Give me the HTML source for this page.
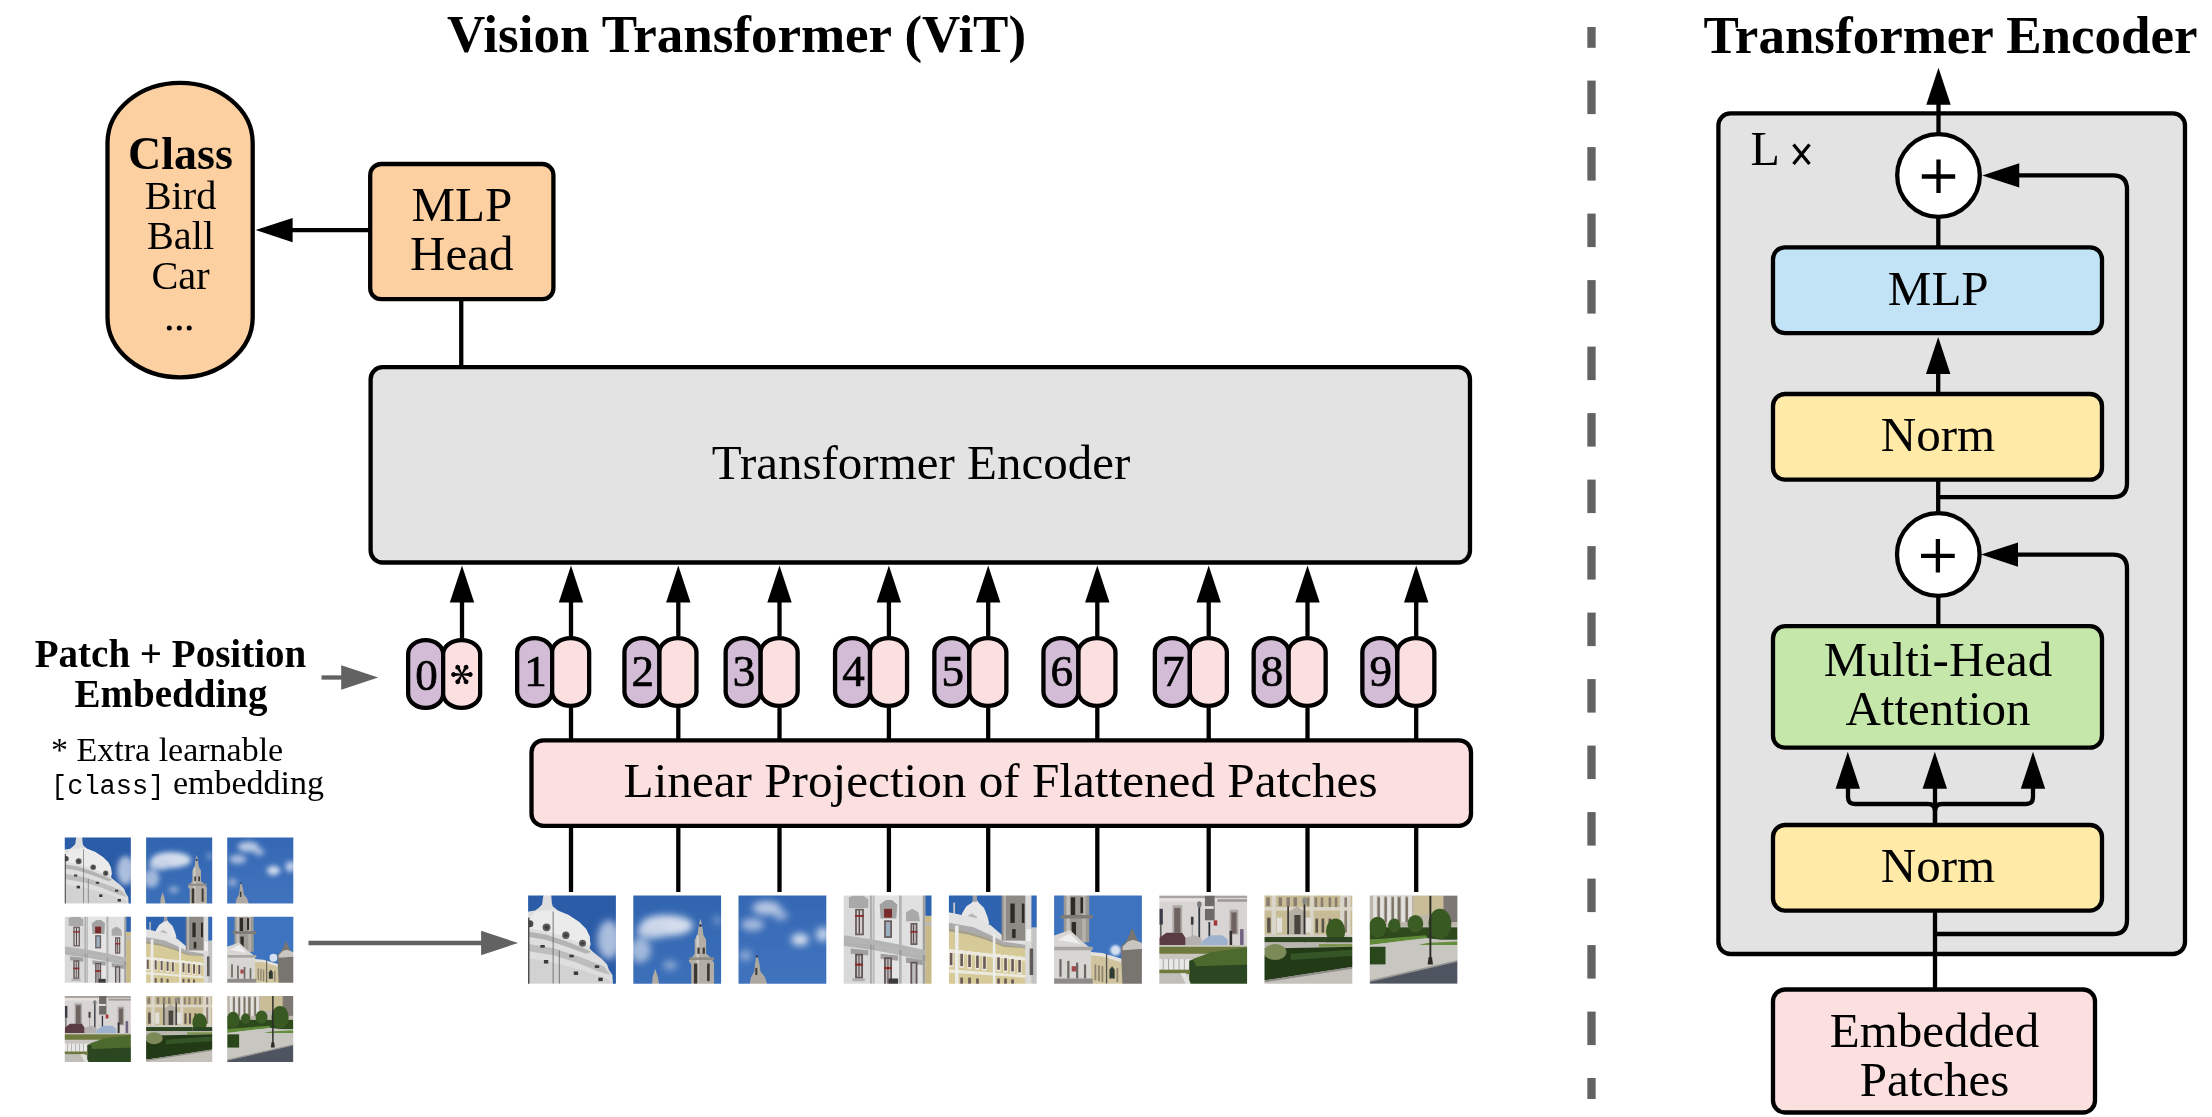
<!DOCTYPE html>
<html><head><meta charset="utf-8"><style>
html,body{margin:0;padding:0;background:#fff;overflow:hidden;}
svg{display:block;will-change:transform;}
text{fill:#000;}
</style></head><body>
<svg width="2212" height="1117" viewBox="0 0 2212 1117">
<text x="736.60" y="51.90" font-family="Liberation Serif" font-size="53" font-weight="bold" text-anchor="middle" >Vision Transformer (ViT)</text>
<text x="1950.50" y="52.60" font-family="Liberation Serif" font-size="53" font-weight="bold" text-anchor="middle" >Transformer Encoder</text>
<rect x="1587.35" y="27" width="8.3" height="20.8" fill="#626262"/>
<rect x="1587.35" y="80.60" width="8.3" height="33.5" fill="#626262"/>
<rect x="1587.35" y="147.10" width="8.3" height="33.5" fill="#626262"/>
<rect x="1587.35" y="213.60" width="8.3" height="33.5" fill="#626262"/>
<rect x="1587.35" y="280.10" width="8.3" height="33.5" fill="#626262"/>
<rect x="1587.35" y="346.60" width="8.3" height="33.5" fill="#626262"/>
<rect x="1587.35" y="413.10" width="8.3" height="33.5" fill="#626262"/>
<rect x="1587.35" y="479.60" width="8.3" height="33.5" fill="#626262"/>
<rect x="1587.35" y="546.10" width="8.3" height="33.5" fill="#626262"/>
<rect x="1587.35" y="612.60" width="8.3" height="33.5" fill="#626262"/>
<rect x="1587.35" y="679.10" width="8.3" height="33.5" fill="#626262"/>
<rect x="1587.35" y="745.60" width="8.3" height="33.5" fill="#626262"/>
<rect x="1587.35" y="812.10" width="8.3" height="33.5" fill="#626262"/>
<rect x="1587.35" y="878.60" width="8.3" height="33.5" fill="#626262"/>
<rect x="1587.35" y="945.10" width="8.3" height="33.5" fill="#626262"/>
<rect x="1587.35" y="1011.60" width="8.3" height="33.5" fill="#626262"/>
<rect x="1587.35" y="1078" width="8.3" height="21" fill="#626262"/>
<rect x="107.5" y="82.8" width="145.2" height="294.5" rx="72.6" ry="60" fill="#FDD0A2" stroke="#000" stroke-width="4.3"/>
<text x="180.50" y="168.50" font-family="Liberation Serif" font-size="46" font-weight="bold" text-anchor="middle" >Class</text>
<text x="180.50" y="208.70" font-family="Liberation Serif" font-size="40.3" font-weight="normal" text-anchor="middle" >Bird</text>
<text x="180.50" y="249.00" font-family="Liberation Serif" font-size="40.3" font-weight="normal" text-anchor="middle" >Ball</text>
<text x="180.50" y="289.20" font-family="Liberation Serif" font-size="40.3" font-weight="normal" text-anchor="middle" >Car</text>
<circle cx="169.3" cy="327.9" r="2.5"/><circle cx="179.3" cy="327.9" r="2.5"/><circle cx="189.2" cy="327.9" r="2.5"/>
<rect x="370.20" y="164.00" width="183.20" height="135.20" rx="11" ry="11" fill="#FDD0A2" stroke="#000" stroke-width="4.3"/>
<text x="461.80" y="221.30" font-family="Liberation Serif" font-size="49" font-weight="normal" text-anchor="middle" >MLP</text>
<text x="461.80" y="270.00" font-family="Liberation Serif" font-size="49" font-weight="normal" text-anchor="middle" >Head</text>
<line x1="370.20" y1="230.10" x2="290.00" y2="230.10" stroke="#000" stroke-width="4.3"/>
<polygon points="255.60,230.10 292.60,217.90 292.60,242.30" fill="#000"/>
<line x1="461.25" y1="299.20" x2="461.25" y2="367.20" stroke="#000" stroke-width="4.3"/>
<rect x="370.60" y="367.20" width="1099.40" height="195.30" rx="12" ry="12" fill="#E3E3E3" stroke="#000" stroke-width="4.3"/>
<text x="921.00" y="478.70" font-family="Liberation Serif" font-size="49" font-weight="normal" text-anchor="middle" >Transformer Encoder</text>
<line x1="462.00" y1="638.00" x2="462.00" y2="600.00" stroke="#000" stroke-width="4.3"/>
<polygon points="462.00,565.60 449.80,602.60 474.20,602.60" fill="#000"/>
<rect x="408.15" y="640.15" width="35" height="67.70" rx="17.5" ry="14" fill="#D3BCD6" stroke="#000" stroke-width="4.3"/>
<rect x="443.15" y="640.15" width="37" height="67.70" rx="18.5" ry="14" fill="#FCE0E0" stroke="#000" stroke-width="4.3"/>
<text x="426.50" y="690.00" font-family="Liberation Serif" font-size="45" font-weight="normal" text-anchor="middle" stroke="#000" stroke-width="0.7">0</text>
<g transform="translate(461.9 674.5)" fill="#000"><path d="M0 -0.7 L6.6 -1.5 A2.35 2.35 0 1 1 6.6 1.5 L0 0.7 Z" transform="rotate(0)"/><path d="M0 -0.7 L6.6 -1.5 A2.35 2.35 0 1 1 6.6 1.5 L0 0.7 Z" transform="rotate(60)"/><path d="M0 -0.7 L6.6 -1.5 A2.35 2.35 0 1 1 6.6 1.5 L0 0.7 Z" transform="rotate(120)"/><path d="M0 -0.7 L6.6 -1.5 A2.35 2.35 0 1 1 6.6 1.5 L0 0.7 Z" transform="rotate(180)"/><path d="M0 -0.7 L6.6 -1.5 A2.35 2.35 0 1 1 6.6 1.5 L0 0.7 Z" transform="rotate(240)"/><path d="M0 -0.7 L6.6 -1.5 A2.35 2.35 0 1 1 6.6 1.5 L0 0.7 Z" transform="rotate(300)"/></g>
<line x1="571.00" y1="636.00" x2="571.00" y2="600.00" stroke="#000" stroke-width="4.3"/>
<polygon points="571.00,565.60 558.80,602.60 583.20,602.60" fill="#000"/>
<line x1="571.00" y1="708.00" x2="571.00" y2="740.30" stroke="#000" stroke-width="4.3"/>
<line x1="571.00" y1="825.80" x2="571.00" y2="892.00" stroke="#000" stroke-width="4.3"/>
<rect x="517.15" y="638.15" width="35" height="67.70" rx="17.5" ry="14" fill="#D3BCD6" stroke="#000" stroke-width="4.3"/>
<rect x="552.15" y="638.15" width="37" height="67.70" rx="18.5" ry="14" fill="#FCE0E0" stroke="#000" stroke-width="4.3"/>
<text x="535.50" y="685.50" font-family="Liberation Serif" font-size="45" font-weight="normal" text-anchor="middle" stroke="#000" stroke-width="0.7">1</text>
<line x1="678.30" y1="636.00" x2="678.30" y2="600.00" stroke="#000" stroke-width="4.3"/>
<polygon points="678.30,565.60 666.10,602.60 690.50,602.60" fill="#000"/>
<line x1="678.30" y1="708.00" x2="678.30" y2="740.30" stroke="#000" stroke-width="4.3"/>
<line x1="678.30" y1="825.80" x2="678.30" y2="892.00" stroke="#000" stroke-width="4.3"/>
<rect x="624.45" y="638.15" width="35" height="67.70" rx="17.5" ry="14" fill="#D3BCD6" stroke="#000" stroke-width="4.3"/>
<rect x="659.45" y="638.15" width="37" height="67.70" rx="18.5" ry="14" fill="#FCE0E0" stroke="#000" stroke-width="4.3"/>
<text x="642.80" y="685.50" font-family="Liberation Serif" font-size="45" font-weight="normal" text-anchor="middle" stroke="#000" stroke-width="0.7">2</text>
<line x1="779.50" y1="636.00" x2="779.50" y2="600.00" stroke="#000" stroke-width="4.3"/>
<polygon points="779.50,565.60 767.30,602.60 791.70,602.60" fill="#000"/>
<line x1="779.50" y1="708.00" x2="779.50" y2="740.30" stroke="#000" stroke-width="4.3"/>
<line x1="779.50" y1="825.80" x2="779.50" y2="892.00" stroke="#000" stroke-width="4.3"/>
<rect x="725.65" y="638.15" width="35" height="67.70" rx="17.5" ry="14" fill="#D3BCD6" stroke="#000" stroke-width="4.3"/>
<rect x="760.65" y="638.15" width="37" height="67.70" rx="18.5" ry="14" fill="#FCE0E0" stroke="#000" stroke-width="4.3"/>
<text x="744.00" y="685.50" font-family="Liberation Serif" font-size="45" font-weight="normal" text-anchor="middle" stroke="#000" stroke-width="0.7">3</text>
<line x1="888.90" y1="636.00" x2="888.90" y2="600.00" stroke="#000" stroke-width="4.3"/>
<polygon points="888.90,565.60 876.70,602.60 901.10,602.60" fill="#000"/>
<line x1="888.90" y1="708.00" x2="888.90" y2="740.30" stroke="#000" stroke-width="4.3"/>
<line x1="888.90" y1="825.80" x2="888.90" y2="892.00" stroke="#000" stroke-width="4.3"/>
<rect x="835.05" y="638.15" width="35" height="67.70" rx="17.5" ry="14" fill="#D3BCD6" stroke="#000" stroke-width="4.3"/>
<rect x="870.05" y="638.15" width="37" height="67.70" rx="18.5" ry="14" fill="#FCE0E0" stroke="#000" stroke-width="4.3"/>
<text x="853.40" y="685.50" font-family="Liberation Serif" font-size="45" font-weight="normal" text-anchor="middle" stroke="#000" stroke-width="0.7">4</text>
<line x1="988.20" y1="636.00" x2="988.20" y2="600.00" stroke="#000" stroke-width="4.3"/>
<polygon points="988.20,565.60 976.00,602.60 1000.40,602.60" fill="#000"/>
<line x1="988.20" y1="708.00" x2="988.20" y2="740.30" stroke="#000" stroke-width="4.3"/>
<line x1="988.20" y1="825.80" x2="988.20" y2="892.00" stroke="#000" stroke-width="4.3"/>
<rect x="934.35" y="638.15" width="35" height="67.70" rx="17.5" ry="14" fill="#D3BCD6" stroke="#000" stroke-width="4.3"/>
<rect x="969.35" y="638.15" width="37" height="67.70" rx="18.5" ry="14" fill="#FCE0E0" stroke="#000" stroke-width="4.3"/>
<text x="952.70" y="685.50" font-family="Liberation Serif" font-size="45" font-weight="normal" text-anchor="middle" stroke="#000" stroke-width="0.7">5</text>
<line x1="1097.30" y1="636.00" x2="1097.30" y2="600.00" stroke="#000" stroke-width="4.3"/>
<polygon points="1097.30,565.60 1085.10,602.60 1109.50,602.60" fill="#000"/>
<line x1="1097.30" y1="708.00" x2="1097.30" y2="740.30" stroke="#000" stroke-width="4.3"/>
<line x1="1097.30" y1="825.80" x2="1097.30" y2="892.00" stroke="#000" stroke-width="4.3"/>
<rect x="1043.45" y="638.15" width="35" height="67.70" rx="17.5" ry="14" fill="#D3BCD6" stroke="#000" stroke-width="4.3"/>
<rect x="1078.45" y="638.15" width="37" height="67.70" rx="18.5" ry="14" fill="#FCE0E0" stroke="#000" stroke-width="4.3"/>
<text x="1061.80" y="685.50" font-family="Liberation Serif" font-size="45" font-weight="normal" text-anchor="middle" stroke="#000" stroke-width="0.7">6</text>
<line x1="1208.70" y1="636.00" x2="1208.70" y2="600.00" stroke="#000" stroke-width="4.3"/>
<polygon points="1208.70,565.60 1196.50,602.60 1220.90,602.60" fill="#000"/>
<line x1="1208.70" y1="708.00" x2="1208.70" y2="740.30" stroke="#000" stroke-width="4.3"/>
<line x1="1208.70" y1="825.80" x2="1208.70" y2="892.00" stroke="#000" stroke-width="4.3"/>
<rect x="1154.85" y="638.15" width="35" height="67.70" rx="17.5" ry="14" fill="#D3BCD6" stroke="#000" stroke-width="4.3"/>
<rect x="1189.85" y="638.15" width="37" height="67.70" rx="18.5" ry="14" fill="#FCE0E0" stroke="#000" stroke-width="4.3"/>
<text x="1173.20" y="685.50" font-family="Liberation Serif" font-size="45" font-weight="normal" text-anchor="middle" stroke="#000" stroke-width="0.7">7</text>
<line x1="1307.50" y1="636.00" x2="1307.50" y2="600.00" stroke="#000" stroke-width="4.3"/>
<polygon points="1307.50,565.60 1295.30,602.60 1319.70,602.60" fill="#000"/>
<line x1="1307.50" y1="708.00" x2="1307.50" y2="740.30" stroke="#000" stroke-width="4.3"/>
<line x1="1307.50" y1="825.80" x2="1307.50" y2="892.00" stroke="#000" stroke-width="4.3"/>
<rect x="1253.65" y="638.15" width="35" height="67.70" rx="17.5" ry="14" fill="#D3BCD6" stroke="#000" stroke-width="4.3"/>
<rect x="1288.65" y="638.15" width="37" height="67.70" rx="18.5" ry="14" fill="#FCE0E0" stroke="#000" stroke-width="4.3"/>
<text x="1272.00" y="685.50" font-family="Liberation Serif" font-size="45" font-weight="normal" text-anchor="middle" stroke="#000" stroke-width="0.7">8</text>
<line x1="1416.20" y1="636.00" x2="1416.20" y2="600.00" stroke="#000" stroke-width="4.3"/>
<polygon points="1416.20,565.60 1404.00,602.60 1428.40,602.60" fill="#000"/>
<line x1="1416.20" y1="708.00" x2="1416.20" y2="740.30" stroke="#000" stroke-width="4.3"/>
<line x1="1416.20" y1="825.80" x2="1416.20" y2="892.00" stroke="#000" stroke-width="4.3"/>
<rect x="1362.35" y="638.15" width="35" height="67.70" rx="17.5" ry="14" fill="#D3BCD6" stroke="#000" stroke-width="4.3"/>
<rect x="1397.35" y="638.15" width="37" height="67.70" rx="18.5" ry="14" fill="#FCE0E0" stroke="#000" stroke-width="4.3"/>
<text x="1380.70" y="685.50" font-family="Liberation Serif" font-size="45" font-weight="normal" text-anchor="middle" stroke="#000" stroke-width="0.7">9</text>
<rect x="531.50" y="740.30" width="939.50" height="85.50" rx="12" ry="12" fill="#FCE0E0" stroke="#000" stroke-width="4.3"/>
<text x="1000.60" y="796.90" font-family="Liberation Serif" font-size="49.2" font-weight="normal" text-anchor="middle" >Linear Projection of Flattened Patches</text>
<text x="170.50" y="667.20" font-family="Liberation Serif" font-size="39" font-weight="bold" text-anchor="middle" >Patch + Position</text>
<text x="171.00" y="706.75" font-family="Liberation Serif" font-size="39" font-weight="bold" text-anchor="middle" >Embedding</text>
<line x1="321.50" y1="677.50" x2="345.00" y2="677.50" stroke="#626262" stroke-width="4.3"/>
<polygon points="378.20,677.50 341.20,665.30 341.20,689.70" fill="#626262"/>
<text x="51.00" y="760.90" font-family="Liberation Serif" font-size="34" font-weight="normal" text-anchor="start" >* Extra learnable</text>
<text x="51" y="793.5" font-size="34" text-anchor="start"><tspan font-family="Liberation Mono" font-size="27">[class]</tspan><tspan font-family="Liberation Serif"> embedding</tspan></text>
<line x1="308.50" y1="943.00" x2="485.00" y2="943.00" stroke="#626262" stroke-width="4.3"/>
<polygon points="518.10,943.00 481.10,930.80 481.10,955.20" fill="#626262"/>
<defs>
<linearGradient id="skyg2" x1="0" y1="0" x2="0" y2="1"><stop offset="0" stop-color="#3064AF"/><stop offset="1" stop-color="#3C70BA"/></linearGradient><linearGradient id="skyg3" x1="0" y1="0" x2="0" y2="1"><stop offset="0" stop-color="#3467B3"/><stop offset="1" stop-color="#4174BE"/></linearGradient><filter id="soft" x="-5%" y="-5%" width="110%" height="110%"><feGaussianBlur stdDeviation="0.55"/></filter><filter id="bl1" x="-50%" y="-50%" width="200%" height="200%"><feGaussianBlur stdDeviation="4"/></filter><filter id="bl2" x="-20%" y="-20%" width="140%" height="140%"><feGaussianBlur stdDeviation="1.2"/></filter>
<symbol id="p1" viewBox="0 0 100 100" preserveAspectRatio="none"><g filter="url(#soft)">
<rect x="-5" y="-5" width="110" height="110" fill="#2C5CA8"/>
<ellipse cx="92" cy="50" rx="13" ry="22" fill="#B9C9E3" opacity="0.9" filter="url(#bl1)"/>
<path d="M-5 19 L8 17 L12 14 L16 10 L17 2 L19 -5 L26 -5 L27 8 L28 12 L34 17 L46 22 L58 30 L66 38 L70 46 L71 56 L70 60 L74 64 L84 72 L90 78 L92 84 L96 90 L97 105 L-5 105 Z" fill="#DEDEDE"/>
<path d="M8 18 L30 16 L46 22 L58 30 L66 38 L70 46 L71 56 L60 54 L40 46 L20 40 L-5 36 Z" fill="#EBEBEB"/>
<path d="M-5 40 L20 44 L44 52 L64 60 L72 64 L66 66 L44 58 L20 50 L-5 46 Z" fill="#A8A8A8" opacity="0.8"/>
<path d="M-5 54 L30 60 L60 70 L86 80 L94 90 L80 86 L56 76 L30 68 L-5 62 Z" fill="#B4B4B4" opacity="0.8"/>
<path d="M-5 70 L30 76 L60 84 L90 94 L96 100 L-5 100 Z" fill="#D2D2D2"/>
<circle cx="21" cy="36" r="4.5" fill="#5E5C5A"/>
<circle cx="21" cy="36" r="2.2" fill="#3E3C3A"/>
<circle cx="43" cy="45" r="4.2" fill="#5E5C5A"/>
<circle cx="43" cy="45" r="2" fill="#3E3C3A"/>
<circle cx="62" cy="54" r="4" fill="#5E5C5A"/>
<circle cx="62" cy="54" r="1.8" fill="#3E3C3A"/>
<circle cx="2" cy="32" r="4" fill="#4A4846"/>
<rect x="14" y="56" width="5" height="3" fill="#3A3A3A"/>
<rect x="18" y="73" width="5" height="4" fill="#3A3A3A"/>
<rect x="47" y="67" width="5" height="3" fill="#3A3A3A"/>
<rect x="52" y="86" width="5" height="4" fill="#3A3A3A"/>
<rect x="76" y="79" width="5" height="3" fill="#3A3A3A"/>
<rect x="80" y="93" width="5" height="4" fill="#3A3A3A"/>
<rect x="28" y="18" width="1" height="82" fill="#6A6A6A"/>
<rect x="35" y="62" width="1" height="38" fill="#6A6A6A"/>
<rect x="-5" y="25" width="6.5" height="80" fill="#3A3A3A"/>
</g></symbol>
<symbol id="p2" viewBox="0 0 100 100" preserveAspectRatio="none"><g filter="url(#soft)">
<rect x="-5" y="-5" width="110" height="110" fill="url(#skyg2)"/>
<g filter="url(#bl1)">
<ellipse cx="38" cy="34" rx="30" ry="12" fill="#DCE4F0" opacity="0.95"/>
<ellipse cx="22" cy="40" rx="18" ry="9" fill="#C8D4E8" opacity="0.9"/>
<ellipse cx="8" cy="62" rx="12" ry="14" fill="#B4C6E2" opacity="0.85"/>
<ellipse cx="42" cy="79" rx="8" ry="5" fill="#A8BCDC" opacity="0.8"/>
<ellipse cx="96" cy="28" rx="4" ry="5" fill="#9FB6DA" opacity="0.7"/>
</g>
<path d="M66 105 L66 78 L63 74 L67 70 L70 66 L70 50 L73 45 L75 32 L76.5 26 L78 32 L80 45 L83 50 L83 66 L88 70 L92 76 L92 105 Z" fill="#B2AEA6"/>
<rect x="72" y="45" width="2.5" height="55" fill="#D2D0CC"/>
<rect x="69" y="77" width="4" height="23" fill="#3C3732"/>
<rect x="84" y="77" width="3" height="20" fill="#3C3732"/>
<rect x="73" y="59" width="2.5" height="7" fill="#3C3732"/>
<rect x="79" y="59" width="2.5" height="7" fill="#3C3732"/>
<rect x="64" y="70" width="28" height="3" fill="#8E8A84"/>
<circle cx="76.5" cy="34" r="1.5" fill="#223355"/>
<path d="M21 105 L22 92 L24 86 L25 83 L26 86 L28 92 L30 105 Z" fill="#AFAAA2"/>
</g></symbol>
<symbol id="p3" viewBox="0 0 100 100" preserveAspectRatio="none"><g filter="url(#soft)">
<rect x="-5" y="-5" width="110" height="110" fill="url(#skyg3)"/>
<g filter="url(#bl1)">
<ellipse cx="32" cy="14" rx="16" ry="8" fill="#C4D2E8" opacity="0.9"/>
<ellipse cx="48" cy="22" rx="8" ry="6" fill="#B4C6E2" opacity="0.8"/>
<ellipse cx="16" cy="33" rx="13" ry="7" fill="#B8C8E4" opacity="0.85"/>
<ellipse cx="70" cy="50" rx="10" ry="7" fill="#DCE4F0" opacity="0.95"/>
<ellipse cx="96" cy="44" rx="8" ry="8" fill="#D0DCEE" opacity="0.9"/>
<ellipse cx="8" cy="68" rx="7" ry="6" fill="#A8BCDC" opacity="0.8"/>
</g>
<path d="M12 105 L14 93 L18 86 L19 76 L20 70 L21 67 L22 70 L24 78 L25 86 L30 92 L34 105 Z" fill="#ADA9A2"/>
<rect x="19.2" y="82" width="2.2" height="8" fill="#3C3732"/>
<circle cx="21" cy="69" r="1.3" fill="#223355"/>
</g></symbol>
<symbol id="p4" viewBox="0 0 100 100" preserveAspectRatio="none"><g filter="url(#soft)">
<rect x="-5" y="-5" width="110" height="110" fill="#DCDCDC"/>
<rect x="0" y="0" width="30" height="100" fill="#D9D9D9"/>
<rect x="35" y="0" width="28" height="100" fill="#E4E4E4"/>
<rect x="67" y="0" width="25" height="100" fill="#E0E0E0"/>
<rect x="30" y="-5" width="2" height="110" fill="#A8A8A8"/>
<rect x="33" y="-5" width="2" height="110" fill="#B8B8B8"/>
<rect x="63" y="-5" width="3" height="110" fill="#B2B2B2"/>
<rect x="90" y="-5" width="3" height="110" fill="#A0A0A0"/>
<rect x="93" y="-5" width="12" height="28" fill="#2F63B0"/>
<rect x="93" y="23" width="12" height="82" fill="#C9BA8A"/>
<rect x="93" y="30" width="12" height="4" fill="#B8B8B8"/>
<path d="M0 45 L35 50 L66 56 L93 62 L93 68 L66 62 L35 56 L0 51 Z" fill="#B4B4B4"/>
<path d="M0 51 L35 56 L66 62 L93 68 L93 74 L66 68 L35 62 L0 57 Z" fill="#8F8F8F" opacity="0.55"/>
<path d="M6 2 L12 0 L22 0 L28 4 L28 14 L6 14 Z" fill="#A9A9A9"/>
<path d="M41 10 L48 5 L55 5 L61 10 L60 26 L42 26 Z" fill="#A2A2A2"/>
<path d="M71 19 L78 15 L85 19 L87 29 L71 29 Z" fill="#A9A9A9"/>
<rect x="13" y="15" width="10" height="30" fill="#6A5E5C"/>
<rect x="15" y="17" width="6" height="26" fill="#CFCFCF"/>
<rect x="17" y="17" width="1.5" height="26" fill="#5A4444"/>
<rect x="13" y="22" width="10" height="2" fill="#8A2A2A"/>
<rect x="46" y="15" width="9" height="10" fill="#7A2A2A"/>
<rect x="46" y="28" width="9" height="20" fill="#6A5E5C"/>
<rect x="48" y="30" width="5" height="16" fill="#9CB0C2"/>
<rect x="76" y="31" width="8" height="25" fill="#6A5E5C"/>
<rect x="78" y="33" width="4" height="21" fill="#C8C8C8"/>
<rect x="79" y="33" width="1.2" height="21" fill="#5A4444"/>
<rect x="76" y="40" width="8" height="2" fill="#8A2A2A"/>
<path d="M8 60 L28 62 L28 68 L8 66 Z" fill="#A0A0A0"/>
<path d="M42 66 L62 68 L62 74 L42 72 Z" fill="#A0A0A0"/>
<path d="M71 70 L90 73 L90 79 L71 76 Z" fill="#A0A0A0"/>
<rect x="13" y="66" width="9" height="28" fill="#5E5252"/>
<rect x="15" y="68" width="5" height="24" fill="#C4C4C4"/>
<rect x="16.8" y="68" width="1.2" height="24" fill="#5A4444"/>
<rect x="13" y="77" width="9" height="2.5" fill="#8A2A2A"/>
<rect x="46" y="70" width="9" height="32" fill="#5E5252"/>
<rect x="48" y="72" width="5" height="30" fill="#C0C0C0"/>
<rect x="49.8" y="72" width="1.2" height="30" fill="#5A4444"/>
<rect x="46" y="81" width="9" height="2.5" fill="#8A2A2A"/>
<rect x="76" y="75" width="8" height="30" fill="#5E5252"/>
<rect x="78" y="77" width="4" height="28" fill="#BEBEBE"/>
<rect x="51" y="94" width="11" height="8" fill="#3A3A3A"/>
<rect x="10" y="94" width="14" height="3" fill="#B0B0B0"/>
</g></symbol>
<symbol id="p5" viewBox="0 0 100 100" preserveAspectRatio="none"><g filter="url(#soft)">
<rect x="-5" y="-5" width="110" height="110" fill="#D6CA98"/>
<path d="M-5 -5 L62 -5 L62 48 L50 40 L42 30 L30 26 L-5 20 Z" fill="#2E63B0"/>
<rect x="92" y="-5" width="13" height="42" fill="#3368B5"/>
<path d="M14 30 L15 20 L20 12 L26 8 L30 2 L34 8 L40 14 L44 24 L46 32 L30 34 Z" fill="#E6E6E6"/>
<path d="M20 24 L26 20 L32 24 L30 30 L22 30 Z" fill="#9A9A9A" opacity="0.6"/>
<rect x="27" y="-5" width="5" height="12" fill="#A0A0A0"/>
<rect x="5" y="8" width="2" height="14" fill="#C8C8C8"/>
<path d="M-5 18 L30 25 L48 34 L62 46 L88 52 L105 54 L105 62 L62 56 L44 48 L24 42 L-5 36 Z" fill="#E2E2E2"/>
<path d="M-5 30 L28 36 L46 44 L62 52 L88 56 L88 60 L62 58 L42 50 L22 44 L-5 40 Z" fill="#7E7E7E" opacity="0.55"/>
<rect x="60" y="-5" width="29" height="56" fill="#8E8B87"/>
<rect x="62" y="-5" width="3" height="56" fill="#B6B3AE"/>
<rect x="70" y="9" width="5" height="22" fill="#2E2B28"/>
<rect x="83" y="9" width="3" height="22" fill="#2E2B28"/>
<rect x="72" y="38" width="4" height="10" fill="#2E2B28"/>
<rect x="87" y="-5" width="7" height="105" fill="#DADADA"/>
<rect x="88" y="38" width="6" height="14" fill="#F0F0F0"/>
<rect x="94" y="36" width="11" height="69" fill="#C4C4C4"/>
<rect x="7" y="34" width="4" height="71" fill="#ECECEC"/>
<rect x="50" y="44" width="3" height="61" fill="#ECECEC"/>
<path d="M-5 60 L87 70 L87 74 L-5 64 Z" fill="#EEEEEA" opacity="0.85"/>
<path d="M-5 83 L87 90 L87 93 L-5 87 Z" fill="#EEEEEA" opacity="0.85"/>
<g fill="#EDEAE0">
<rect x="0" y="61" width="5" height="20"/><rect x="12" y="62" width="5" height="20"/><rect x="21" y="63" width="5" height="20"/>
<rect x="30" y="64" width="5" height="20"/><rect x="38" y="65" width="5" height="20"/><rect x="54" y="66" width="5" height="20"/>
<rect x="62" y="67" width="5" height="20"/><rect x="70" y="68" width="5" height="20"/><rect x="78" y="69" width="5" height="20"/>
</g>
<g fill="#6A5A56">
<rect x="1" y="65" width="3" height="14"/><rect x="13" y="66" width="3" height="14"/><rect x="22" y="67" width="3" height="14"/>
<rect x="31" y="68" width="3" height="14"/><rect x="39" y="69" width="3" height="14"/><rect x="55" y="70" width="3" height="14"/>
<rect x="63" y="71" width="3" height="14"/><rect x="71" y="72" width="3" height="14"/><rect x="79" y="73" width="3" height="14"/>
<rect x="13" y="93" width="3" height="8"/><rect x="22" y="93" width="3" height="8"/><rect x="31" y="94" width="3" height="7"/>
<rect x="55" y="94" width="3" height="7"/><rect x="63" y="94" width="3" height="7"/><rect x="71" y="95" width="3" height="6"/>
</g>
<rect x="92" y="60" width="4" height="30" fill="#5E5A56"/>
</g></symbol>
<symbol id="p6" viewBox="0 0 100 100" preserveAspectRatio="none"><g filter="url(#soft)">
<rect x="-5" y="-5" width="110" height="110" fill="#3D73BF"/>
<ellipse cx="70" cy="62" rx="6" ry="6" fill="#D5E0F0" filter="url(#bl2)"/>
<rect x="11" y="-5" width="29" height="58" fill="#9C9892"/>
<rect x="14" y="-5" width="4" height="58" fill="#C2BFBA"/>
<rect x="32" y="-5" width="4" height="58" fill="#B4B0AA"/>
<rect x="19" y="2" width="5" height="20" fill="#2E2B28"/>
<rect x="30" y="2" width="3" height="18" fill="#2E2B28"/>
<rect x="20" y="30" width="5" height="16" fill="#2E2B28"/>
<rect x="8" y="22" width="36" height="4" fill="#7E7A76"/>
<path d="M-5 47 L18 39 L32 52 L42 60 L44 105 L-5 105 Z" fill="#D8D6D3"/>
<path d="M4 50 L18 43 L30 55 Z" fill="#EEEEEE"/>
<rect x="-5" y="58" width="49" height="4" fill="#A9A7A4"/>
<g fill="#6A6662"><rect x="6" y="72" width="2.5" height="20"/><rect x="15" y="74" width="2.5" height="20"/><rect x="25" y="76" width="2.5" height="18"/><rect x="34" y="78" width="2.5" height="16"/></g>
<rect x="20" y="80" width="5" height="6" fill="#A04848"/>
<path d="M42 66 L55 67 L78 74 L80 105 L42 105 Z" fill="#CFC49E"/>
<path d="M42 64 L55 65 L78 72 L78 76 L55 69 L42 68 Z" fill="#E4E2DC"/>
<g fill="#8E8470"><rect x="46" y="78" width="2" height="18"/><rect x="50" y="79" width="2" height="18"/><rect x="54" y="80" width="2" height="18"/><rect x="71" y="82" width="2" height="16"/></g>
<path d="M76 58 L82 52 L86 44 L88 38 L90 38 L92 44 L96 52 L105 56 L105 105 L78 105 Z" fill="#787470"/>
<path d="M78 58 L84 52 L90 50 L96 52 L105 56 L105 60 L78 62 Z" fill="#C9C6C2"/>
<rect x="59" y="66" width="1.5" height="34" fill="#555"/>
<path d="M63 84 L66 80 L69 84 L69 94 L63 94 Z" fill="#2E3A30"/>
<rect x="-5" y="94" width="49" height="11" fill="#8E8C88"/>
</g></symbol>
<symbol id="p7" viewBox="0 0 100 100" preserveAspectRatio="none"><g filter="url(#soft)">
<rect x="-5" y="-5" width="110" height="110" fill="#D8D4D3"/>
<rect x="-5" y="0" width="110" height="3" fill="#A9A3A0"/>
<rect x="-5" y="3" width="110" height="4" fill="#E4E1DF"/>
<rect x="66" y="4" width="40" height="3" fill="#9E9896"/>
<rect x="15" y="11" width="11" height="32" fill="#ADA6A3"/>
<rect x="17" y="14" width="7" height="28" fill="#6E6460"/>
<rect x="80" y="16" width="10" height="28" fill="#ADA6A3"/>
<rect x="82" y="19" width="6" height="24" fill="#6E6460"/>
<rect x="52" y="0" width="11" height="28" fill="#6E6A68"/>
<rect x="50" y="12" width="12" height="3" fill="#E2E2E2"/>
<rect x="0" y="15" width="4" height="18" fill="#3A3A46"/>
<rect x="1" y="33" width="1.5" height="15" fill="#444"/>
<rect x="44.5" y="8" width="2" height="54" fill="#2E3440"/>
<ellipse cx="45.5" cy="10" rx="2.5" ry="3.5" fill="#7A7A78"/>
<rect x="36" y="24" width="3" height="9" fill="#3A3A3A"/>
<rect x="37" y="33" width="1" height="25" fill="#9A9A9A"/>
<rect x="62" y="28" width="4" height="6" fill="#A03838"/>
<rect x="56" y="30" width="2" height="30" fill="#2E3440"/>
<path d="M0 48 L8 42 L26 42 L30 48 L30 58 L0 58 Z" fill="#5A3A42"/>
<path d="M30 48 L40 45 L48 48 L48 58 L30 58 Z" fill="#B4B0B0"/>
<path d="M48 52 L58 45 L72 45 L78 50 L78 58 L48 58 Z" fill="#9EB2CE"/>
<rect x="80" y="40" width="3" height="16" fill="#333"/>
<rect x="92" y="38" width="4" height="18" fill="#6E6480"/>
<rect x="-5" y="56" width="110" height="4" fill="#C8C8C0"/>
<rect x="-5" y="58" width="110" height="10" fill="#6E7A3C"/>
<path d="M-5 66 L60 66 L66 70 L62 80 L-5 80 Z" fill="#C9C6C2"/>
<rect x="-5" y="72" width="40" height="12" fill="#E8E8E6"/>
<g fill="#9A9A98"><rect x="4" y="72" width="1" height="12"/><rect x="10" y="72" width="1" height="12"/><rect x="16" y="72" width="1" height="12"/><rect x="22" y="72" width="1" height="12"/><rect x="28" y="72" width="1" height="12"/></g>
<path d="M34 74 L60 66 L100 60 L105 60 L105 105 L34 105 Z" fill="#2C4620"/>
<path d="M38 72 L60 64 L105 58 L105 78 L42 80 Z" fill="#4E6A2E"/>
<rect x="-5" y="84" width="40" height="5" fill="#6E7A3C"/>
<rect x="-5" y="88" width="36" height="17" fill="#C0BEB8"/>
<path d="M24 88 L30 88 L36 100 L30 100 Z" fill="#E0E0DC"/>
</g></symbol>
<symbol id="p8" viewBox="0 0 100 100" preserveAspectRatio="none"><g filter="url(#soft)">
<rect x="-5" y="-5" width="110" height="110" fill="#C8BC96"/>
<g fill="#DAD5CA"><rect x="8" y="-5" width="5" height="50"/><rect x="52" y="-5" width="4" height="50"/><rect x="86" y="-5" width="12" height="52"/></g>
<g fill="#8A7E70"><rect x="2" y="2" width="4" height="10"/><rect x="16" y="2" width="4" height="10"/><rect x="25" y="2" width="4" height="10"/><rect x="33" y="2" width="4" height="10"/><rect x="48" y="2" width="3" height="10"/><rect x="57" y="2" width="3" height="12"/><rect x="64" y="2" width="3" height="12"/><rect x="73" y="2" width="3" height="12"/><rect x="80" y="2" width="3" height="12"/><rect x="91" y="2" width="3" height="40"/></g>
<rect x="-5" y="13" width="110" height="4" fill="#DCD6C8"/>
<path d="M26 20 L37 12 L48 20 L48 45 L26 45 Z" fill="#B5AEA2"/>
<rect x="34" y="22" width="7" height="22" fill="#4C4440"/>
<g fill="#E2E0DA"><rect x="14" y="25" width="6" height="17"/><rect x="47" y="25" width="6" height="17"/></g>
<g fill="#5C524A"><rect x="3" y="25" width="4" height="17"/><rect x="58" y="26" width="3" height="16"/><rect x="65" y="26" width="3" height="16"/><rect x="73" y="26" width="3" height="16"/></g>
<rect x="26" y="12" width="1.8" height="46" fill="#333"/>
<rect x="44.5" y="4" width="2" height="56" fill="#333"/>
<ellipse cx="45.5" cy="6" rx="2.5" ry="4" fill="#8A8A86"/>
<rect x="-5" y="44" width="110" height="6" fill="#CFCBC2"/>
<rect x="-5" y="47" width="75" height="6" fill="#2E4620"/>
<ellipse cx="81" cy="40" rx="11" ry="14" fill="#3A5A24"/>
<rect x="70" y="47" width="35" height="8" fill="#2C4420"/>
<path d="M-5 53 L105 53 L105 60 L-5 60 Z" fill="#B9B6B0"/>
<rect x="62" y="55" width="43" height="3" fill="#7A9248"/>
<path d="M-5 60 L105 58 L105 82 L34 92 L-5 97 Z" fill="#233A18"/>
<ellipse cx="12" cy="64" rx="13" ry="9" fill="#7C8A58"/>
<path d="M30 66 L105 61 L105 68 L30 73 Z" fill="#355428"/>
<path d="M-5 97 L34 91 L105 80 L105 105 L-5 105 Z" fill="#C4C1BA"/>
<path d="M-5 97 L34 91 L105 80 L105 82 L34 93 L-5 99 Z" fill="#8E8C88"/>
</g></symbol>
<symbol id="p9" viewBox="0 0 100 100" preserveAspectRatio="none"><g filter="url(#soft)">
<rect x="-5" y="-5" width="110" height="110" fill="#C4C2BD"/>
<rect x="0" y="0" width="100" height="35" fill="#BDB6AB"/>
<g fill="#E4E2DE"><rect x="4" y="0" width="4" height="32"/><rect x="12" y="0" width="4" height="32"/><rect x="20" y="0" width="4" height="32"/><rect x="28" y="0" width="3" height="30"/><rect x="36" y="0" width="4" height="30"/><rect x="44" y="0" width="4" height="30"/></g>
<g fill="#7A7166"><rect x="9" y="2" width="2.5" height="28"/><rect x="17" y="2" width="2.5" height="28"/><rect x="25" y="2" width="2.5" height="28"/><rect x="32" y="2" width="3" height="28"/><rect x="41" y="2" width="2.5" height="28"/></g>
<rect x="50" y="0" width="35" height="22" fill="#C9BD98"/>
<rect x="84" y="0" width="16" height="30" fill="#7D7873"/>
<rect x="0" y="36" width="100" height="14" fill="#2E4A1E"/>
<ellipse cx="9" cy="36" rx="10" ry="12" fill="#385A22"/>
<ellipse cx="28" cy="34" rx="7" ry="8" fill="#385A22"/>
<ellipse cx="52" cy="32" rx="9" ry="10" fill="#3A5C24"/>
<ellipse cx="80" cy="32" rx="13" ry="17" fill="#385A22"/>
<path d="M0 50 L64 45 L66 48 L0 56 Z" fill="#5E8A38"/>
<path d="M55 54 L100 52 L100 56 L55 57 Z" fill="#668F3E"/>
<path d="M0 56 L64 48 L80 50 L56 56 L100 56 L100 76 L0 96 Z" fill="#C8C6C1"/>
<rect x="0" y="58" width="18" height="20" fill="#2C461D"/>
<path d="M0 97 L100 74 L100 100 L0 100 Z" fill="#4F5461"/>
<path d="M0 96 L100 73 L100 75 L0 98 Z" fill="#9A9894"/>
<rect x="68" y="0" width="2.2" height="76" fill="#2A2A28"/>
<path d="M67 70 L71 70 L72 78 L66 78 Z" fill="#2A2A28"/>
</g></symbol>
</defs>
<use href="#p1" x="528.10" y="895.6" width="87.8" height="88.2"/>
<use href="#p2" x="633.30" y="895.6" width="87.8" height="88.2"/>
<use href="#p3" x="738.50" y="895.6" width="87.8" height="88.2"/>
<use href="#p4" x="843.70" y="895.6" width="87.8" height="88.2"/>
<use href="#p5" x="948.90" y="895.6" width="87.8" height="88.2"/>
<use href="#p6" x="1054.10" y="895.6" width="87.8" height="88.2"/>
<use href="#p7" x="1159.30" y="895.6" width="87.8" height="88.2"/>
<use href="#p8" x="1264.50" y="895.6" width="87.8" height="88.2"/>
<use href="#p9" x="1369.70" y="895.6" width="87.8" height="88.2"/>
<use href="#p1" x="64.75" y="837.50" width="66.1" height="66.1"/>
<use href="#p2" x="146.10" y="837.50" width="66.1" height="66.1"/>
<use href="#p3" x="227.20" y="837.50" width="66.1" height="66.1"/>
<use href="#p4" x="64.75" y="916.70" width="66.1" height="66.1"/>
<use href="#p5" x="146.10" y="916.70" width="66.1" height="66.1"/>
<use href="#p6" x="227.20" y="916.70" width="66.1" height="66.1"/>
<use href="#p7" x="64.75" y="996.00" width="66.1" height="66.1"/>
<use href="#p8" x="146.10" y="996.00" width="66.1" height="66.1"/>
<use href="#p9" x="227.20" y="996.00" width="66.1" height="66.1"/>
<rect x="1718.40" y="113.40" width="466.60" height="840.60" rx="12" ry="12" fill="#E3E3E3" stroke="#000" stroke-width="4.3"/>
<text x="1750.50" y="165.00" font-family="Liberation Serif" font-size="48" font-weight="normal" text-anchor="start" >L</text>
<path d="M1793.5 144.5 L1809.5 164 M1809.5 144.5 L1793.5 164" stroke="#000" stroke-width="3.3" fill="none"/>
<line x1="1938.50" y1="134.00" x2="1938.50" y2="100.00" stroke="#000" stroke-width="4.3"/>
<polygon points="1938.50,67.70 1926.30,104.70 1950.70,104.70" fill="#000"/>
<path d="M1938.3 497.1 H2113 Q2127 497.1 2127 483 V189.4 Q2127 175.4 2113 175.4 H2015" fill="none" stroke="#000" stroke-width="4.3"/>
<polygon points="1982.25,175.40 2019.25,163.20 2019.25,187.60" fill="#000"/>
<path d="M1935 934 H2113 Q2127 934 2127 920 V568.6 Q2127 554.6 2113 554.6 H2015" fill="none" stroke="#000" stroke-width="4.3"/>
<polygon points="1981.00,554.60 2018.00,542.40 2018.00,566.80" fill="#000"/>
<line x1="1938.30" y1="217.00" x2="1938.30" y2="247.30" stroke="#000" stroke-width="4.3"/>
<circle cx="1938.5" cy="175.5" r="41.3" fill="#fff" stroke="#000" stroke-width="4.3"/>
<path d="M1921.8 176.5 H1955.2 M1938.5 159.6 V193.1" stroke="#000" stroke-width="4.3"/>
<rect x="1773.00" y="247.30" width="329.00" height="85.90" rx="12" ry="12" fill="#C2E3F5" stroke="#000" stroke-width="4.3"/>
<text x="1938.20" y="304.75" font-family="Liberation Serif" font-size="49" font-weight="normal" text-anchor="middle" >MLP</text>
<line x1="1938.20" y1="394.00" x2="1938.20" y2="370.00" stroke="#000" stroke-width="4.3"/>
<polygon points="1938.20,336.90 1926.00,373.90 1950.40,373.90" fill="#000"/>
<rect x="1773.00" y="394.00" width="329.00" height="85.70" rx="12" ry="12" fill="#FFEAA8" stroke="#000" stroke-width="4.3"/>
<text x="1938.00" y="451.00" font-family="Liberation Serif" font-size="49" font-weight="normal" text-anchor="middle" >Norm</text>
<line x1="1938.20" y1="479.70" x2="1938.20" y2="514.00" stroke="#000" stroke-width="4.3"/>
<line x1="1938.30" y1="596.00" x2="1938.30" y2="626.20" stroke="#000" stroke-width="4.3"/>
<circle cx="1938.3" cy="554.5" r="41.3" fill="#fff" stroke="#000" stroke-width="4.3"/>
<path d="M1921 555.9 H1954.75 M1937.9 539 V572.5" stroke="#000" stroke-width="4.3"/>
<rect x="1773.00" y="626.20" width="329.00" height="121.50" rx="12" ry="12" fill="#C6E7AA" stroke="#000" stroke-width="4.3"/>
<text x="1938.00" y="675.60" font-family="Liberation Serif" font-size="49" font-weight="normal" text-anchor="middle" >Multi-Head</text>
<text x="1938.00" y="725.00" font-family="Liberation Serif" font-size="49" font-weight="normal" text-anchor="middle" >Attention</text>
<path d="M1935 825 V811 Q1935 804 1928 804 H1855 Q1848 804 1848 797 V785" fill="none" stroke="#000" stroke-width="4.3"/>
<path d="M1935 825 V811 Q1935 804 1942 804 H2026 Q2033 804 2033 797 V785" fill="none" stroke="#000" stroke-width="4.3"/>
<line x1="1935.00" y1="811.00" x2="1935.00" y2="785.00" stroke="#000" stroke-width="4.3"/>
<polygon points="1847.80,751.80 1835.60,788.80 1860.00,788.80" fill="#000"/>
<polygon points="1934.80,751.80 1922.60,788.80 1947.00,788.80" fill="#000"/>
<polygon points="2033.00,751.80 2020.80,788.80 2045.20,788.80" fill="#000"/>
<rect x="1773.00" y="825.00" width="329.00" height="85.60" rx="12" ry="12" fill="#FFEAA8" stroke="#000" stroke-width="4.3"/>
<text x="1938.00" y="882.00" font-family="Liberation Serif" font-size="49" font-weight="normal" text-anchor="middle" >Norm</text>
<line x1="1935.00" y1="910.60" x2="1935.00" y2="990.00" stroke="#000" stroke-width="4.3"/>
<rect x="1773.00" y="989.50" width="322.00" height="123.00" rx="12" ry="12" fill="#FCE0E0" stroke="#000" stroke-width="4.3"/>
<text x="1934.50" y="1046.50" font-family="Liberation Serif" font-size="49" font-weight="normal" text-anchor="middle" >Embedded</text>
<text x="1934.50" y="1095.50" font-family="Liberation Serif" font-size="49" font-weight="normal" text-anchor="middle" >Patches</text>
</svg>
</body></html>
